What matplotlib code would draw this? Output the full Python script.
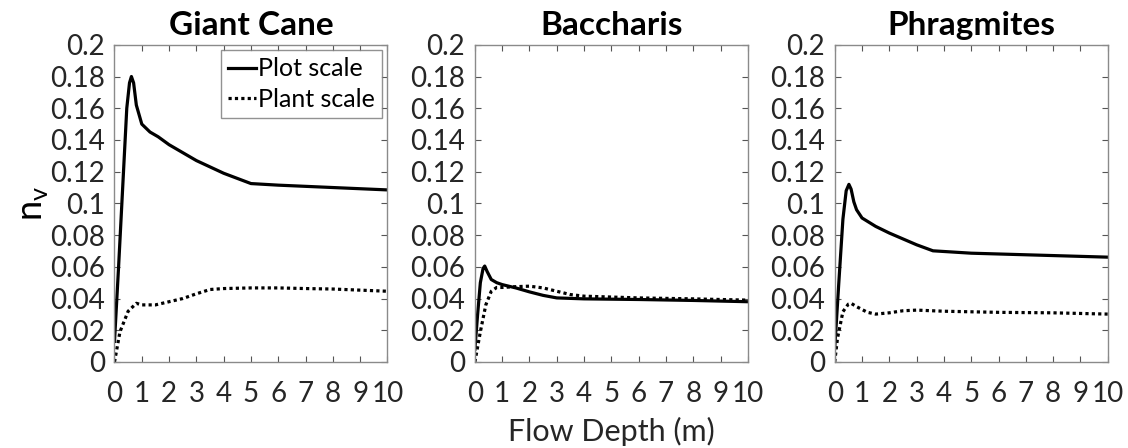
import numpy as np
import matplotlib.pyplot as plt

plt.rcParams['font.family'] = ['Lato', 'DejaVu Sans']

titles = ['Giant Cane', 'Baccharis', 'Phragmites']

# Giant Cane
cane_plot_x = [0, 0.15, 0.3, 0.45, 0.55, 0.62, 0.7, 0.8, 1.0, 1.3, 1.6, 2.0, 3.0, 4.0, 5.0, 6.0, 8.0, 10.0]
cane_plot_y = [0.013, 0.06, 0.11, 0.16, 0.176, 0.18, 0.176, 0.162, 0.150, 0.145, 0.142, 0.137, 0.127, 0.119, 0.1125, 0.1115, 0.110, 0.1085]
cane_plant_x = [0, 0.2, 0.5, 0.8, 1.0, 1.5, 2.0, 2.5, 3.0, 3.5, 4.0, 5.0, 6.0, 7.0, 8.0, 10.0]
cane_plant_y = [0, 0.019, 0.032, 0.037, 0.036, 0.036, 0.038, 0.040, 0.043, 0.0457, 0.0463, 0.0467, 0.0467, 0.0463, 0.046, 0.0446]

# Baccharis
bac_plot_x = [0, 0.1, 0.2, 0.3, 0.36, 0.45, 0.6, 0.8, 1.0, 1.5, 2.0, 2.5, 3.0, 4.0, 6.0, 8.0, 10.0]
bac_plot_y = [0.008, 0.03, 0.05, 0.059, 0.0605, 0.057, 0.052, 0.050, 0.0488, 0.0467, 0.0442, 0.042, 0.0404, 0.0398, 0.0394, 0.0388, 0.038]
bac_plant_x = [0, 0.2, 0.4, 0.6, 0.8, 1.0, 1.5, 2.0, 2.5, 3.0, 3.5, 4.0, 6.0, 8.0, 10.0]
bac_plant_y = [0, 0.019, 0.036, 0.0446, 0.047, 0.047, 0.0475, 0.0478, 0.0467, 0.0446, 0.0425, 0.0415, 0.0404, 0.0398, 0.039]

# Phragmites
phr_plot_x = [0, 0.15, 0.3, 0.42, 0.52, 0.6, 0.7, 0.8, 1.0, 1.5, 2.0, 3.0, 3.6, 5.0, 7.0, 10.0]
phr_plot_y = [0.0085, 0.05, 0.09, 0.108, 0.112, 0.109, 0.101, 0.096, 0.0908, 0.0855, 0.0813, 0.0739, 0.0701, 0.0686, 0.0676, 0.0661]
phr_plant_x = [0, 0.1, 0.3, 0.5, 0.6, 0.8, 1.2, 1.5, 2.0, 2.5, 3.0, 4.0, 6.0, 8.0, 10.0]
phr_plant_y = [0, 0.0148, 0.0317, 0.0365, 0.037, 0.0349, 0.0313, 0.0302, 0.031, 0.0323, 0.0327, 0.032, 0.0313, 0.031, 0.0302]

plot_x = [cane_plot_x, bac_plot_x, phr_plot_x]
plot_y = [cane_plot_y, bac_plot_y, phr_plot_y]
plant_x = [cane_plant_x, bac_plant_x, phr_plant_x]
plant_y = [cane_plant_y, bac_plant_y, phr_plant_y]

yticks = [0, 0.02, 0.04, 0.06, 0.08, 0.1, 0.12, 0.14, 0.16, 0.18, 0.2]
ytick_labels = ['0', '0.02', '0.04', '0.06', '0.08', '0.1', '0.12', '0.14', '0.16', '0.18', '0.2']
xticks = list(range(0, 11))

fig = plt.figure(figsize=(11.28, 4.48), dpi=100)
lefts = [0.1015, 0.421, 0.740]

for i in range(3):
    ax = fig.add_axes([lefts[i], 0.192, 0.242, 0.708])
    ax.plot(plot_x[i], plot_y[i], color='black', lw=2.3, label='Plot scale')
    ax.plot(plant_x[i], plant_y[i], color='black', lw=2.3, linestyle=(0, (1, 1)), label='Plant scale')
    ax.set_xlim(0, 10)
    ax.set_ylim(0, 0.2)
    ax.set_xticks(xticks)
    ax.set_xticklabels([str(v) for v in xticks])
    ax.set_yticks(yticks)
    ax.set_yticklabels(ytick_labels)
    ax.tick_params(direction='in', length=4, width=0.8, color='#555555',
                   labelsize=20, labelcolor='#262626', top=True, right=True)
    ax.tick_params(axis='x', pad=14)
    ax.tick_params(axis='y', pad=7)
    for s in ax.spines.values():
        s.set_color('#8a8a8a')
        s.set_linewidth(1.0)
    ax.set_title(titles[i], fontsize=24, fontweight='bold', pad=7)
    if i == 0:
        leg = ax.legend(loc='upper right', fontsize=18, handlelength=1.1, handletextpad=0.1,
                        borderpad=0.3, labelspacing=0.3, borderaxespad=0.2, fancybox=False)
        leg.get_frame().set_edgecolor('#777777')
        leg.get_frame().set_linewidth(1.0)
        ax.set_ylabel(r'n$_\mathregular{v}$', fontsize=26, labelpad=0)
    if i == 1:
        ax.set_xlabel('Flow Depth (m)', fontsize=22, color='#262626', labelpad=7)

fig.savefig('out.png', dpi=100)
